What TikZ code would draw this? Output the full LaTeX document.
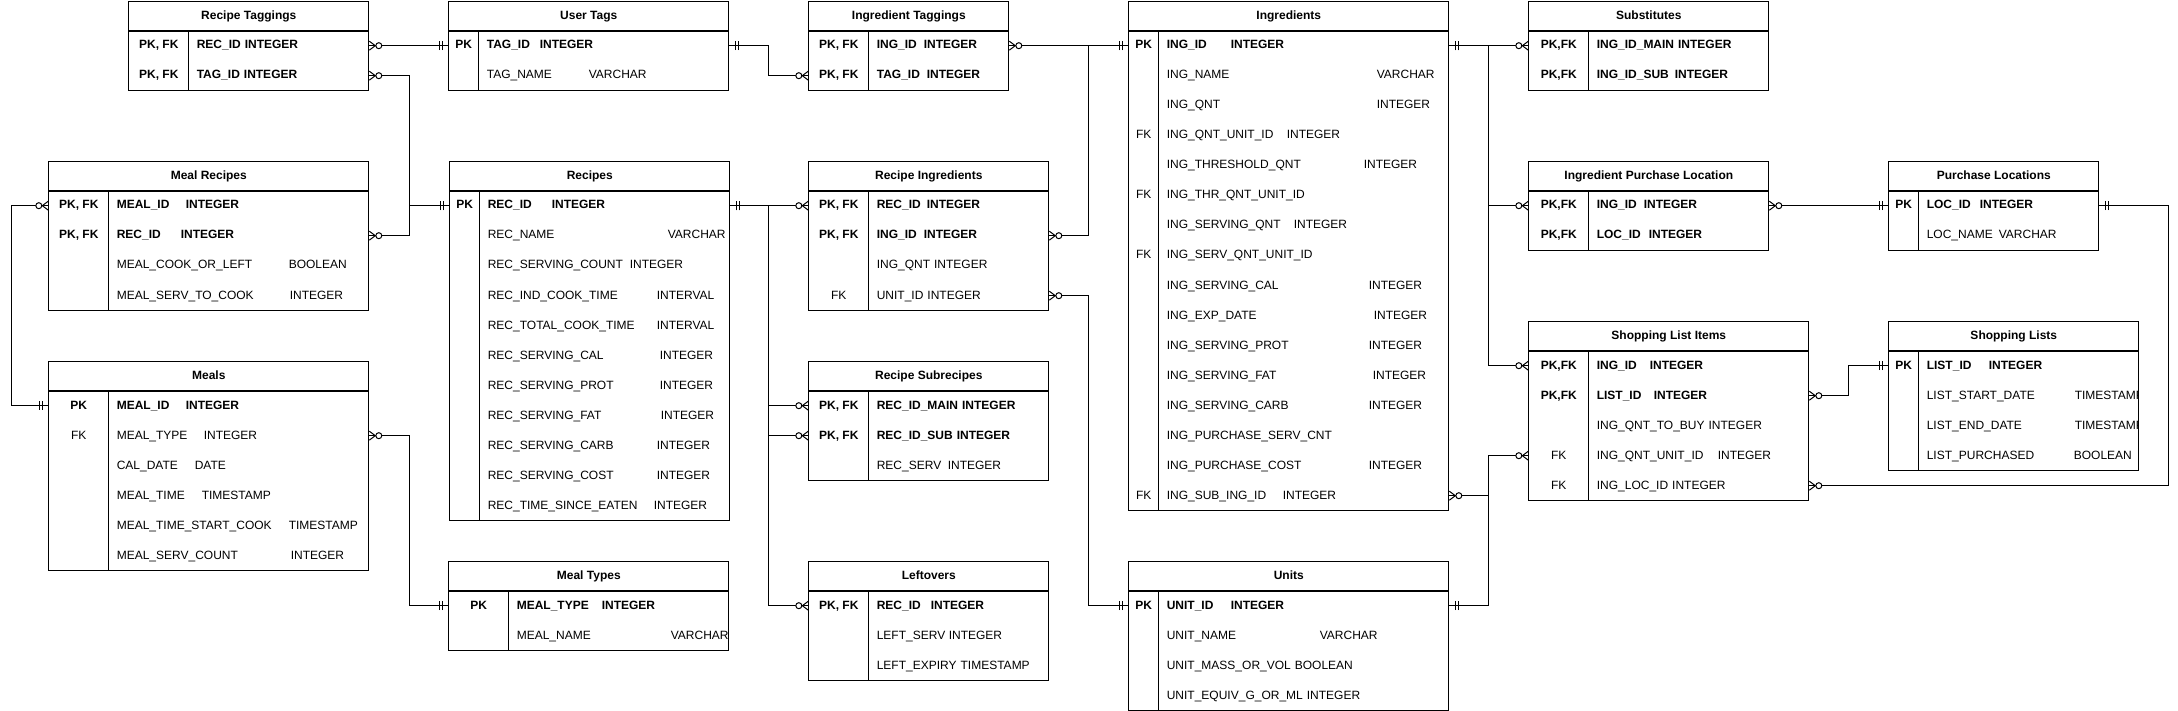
\documentclass[tikz,border=0pt]{standalone}
\usepackage{fontspec}
\setmainfont{Liberation Sans}
\usetikzlibrary{decorations.markings}

% id, x, top, width, key width, title, rows
\newcommand{\ertable}[7]{
  \node[tblhead, minimum width=#4pt] (#1) at (#2,#3) {#6};
  \pgfmathsetmacro{\fw}{#4-#5-16}
  \begin{scope}
    \clip (#2,#3) rectangle (#2+#4,#3+700);
    \foreach [count=\i] \k/\f in {#7} {
      \node[keycell, minimum width=#5pt] (#1-k\i) at (#2,#3+15+30*\i) {\k};
      \node[fieldcell, text width=\fw pt] (#1-\i) at (#2+#5,#3+15+30*\i) {\mbox{\f}};
      \xdef\nrows{\i}
    }
  \end{scope}
  \draw (#2,#3+30) rectangle (#2+#4,#3+30+30*\nrows)
        (#2+#5,#3+30) -- (#2+#5,#3+30+30*\nrows);
}
\newcommand{\fld}[3]{\makebox[#1pt][l]{#2}#3}

\begin{document}
\begin{tikzpicture}[
    x=1pt, y=-1pt, line width=1pt, font=\fontsize{12}{14}\selectfont,
    tblhead/.style={draw, anchor=north west, minimum height=30pt, inner sep=0pt,
                    text height=9pt, text depth=2.4pt, font=\fontsize{12}{14}\selectfont\bfseries},
    keycell/.style={anchor=west, minimum height=30pt, inner sep=0pt,
                    text height=9pt, text depth=2.4pt},
    fieldcell/.style={anchor=west, minimum height=30pt, inner xsep=8pt, inner ysep=0pt,
                      align=left, text height=9pt, text depth=2.4pt},
    link/.style={line width=1pt},
    manystart/.style={postaction={decorate, decoration={markings, mark=at position 0 with {
        \draw (0pt,4.5pt) -- (6pt,0pt) -- (0pt,-4.5pt);
        \draw[fill=white] (9.5pt,0pt) circle (3pt);}}}},
    manyend/.style={postaction={decorate, decoration={markings, mark=at position 1 with {
        \draw (0pt,4.5pt) -- (-6pt,0pt) -- (0pt,-4.5pt);
        \draw[fill=white] (-9.5pt,0pt) circle (3pt);}}}},
    onestart/.style={postaction={decorate, decoration={markings, mark=at position 0 with {
        \draw (6pt,-4.5pt) -- (6pt,4.5pt) (9pt,-4.5pt) -- (9pt,4.5pt);}}}},
    oneend/.style={postaction={decorate, decoration={markings, mark=at position 1 with {
        \draw (-6pt,-4.5pt) -- (-6pt,4.5pt) (-9pt,-4.5pt) -- (-9pt,4.5pt);}}}}
]
  \useasboundingbox (0,0) rectangle (2178,711);

  \ertable{rtag}{128.3}{0.7}{240}{60}{Recipe Taggings}{
    {\bfseries PK, FK}/{\bfseries REC\_ID INTEGER},
    {\bfseries PK, FK}/{\bfseries TAG\_ID INTEGER}}
  \ertable{utag}{448.3}{0.7}{280}{30}{User Tags}{
    {\bfseries PK}/{\bfseries\fld{53}{TAG\_ID}{INTEGER}},
    {}/{\fld{102}{TAG\_NAME}{VARCHAR}}}
  \ertable{mrec}{48.3}{160.7}{320}{60}{Meal Recipes}{
    {\bfseries PK, FK}/{\bfseries\fld{69}{MEAL\_ID}{INTEGER}},
    {\bfseries PK, FK}/{\bfseries\fld{64}{REC\_ID}{INTEGER}},
    {}/{\fld{172}{MEAL\_COOK\_OR\_LEFT}{BOOLEAN}},
    {}/{\fld{173}{MEAL\_SERV\_TO\_COOK}{INTEGER}}}
  \ertable{meals}{48.3}{360.7}{320}{60}{Meals}{
    {\bfseries PK}/{\bfseries\fld{69}{MEAL\_ID}{INTEGER}},
    {FK}/{\fld{87}{MEAL\_TYPE}{INTEGER}},
    {}/{\fld{78}{CAL\_DATE}{DATE}},
    {}/{\fld{85}{MEAL\_TIME}{TIMESTAMP}},
    {}/{\fld{172}{MEAL\_TIME\_START\_COOK}{TIMESTAMP}},
    {}/{\fld{174}{MEAL\_SERV\_COUNT}{INTEGER}}}
  \ertable{rec}{449.3}{160.7}{280}{30}{Recipes}{
    {\bfseries PK}/{\bfseries\fld{64}{REC\_ID}{INTEGER}},
    {}/{\fld{180}{REC\_NAME}{VARCHAR}},
    {}/{\fld{142}{REC\_SERVING\_COUNT}{INTEGER}},
    {}/{\fld{169}{REC\_IND\_COOK\_TIME}{INTERVAL}},
    {}/{\fld{169}{REC\_TOTAL\_COOK\_TIME}{INTERVAL}},
    {}/{\fld{172}{REC\_SERVING\_CAL}{INTEGER}},
    {}/{\fld{172}{REC\_SERVING\_PROT}{INTEGER}},
    {}/{\fld{173}{REC\_SERVING\_FAT}{INTEGER}},
    {}/{\fld{169}{REC\_SERVING\_CARB}{INTEGER}},
    {}/{\fld{169}{REC\_SERVING\_COST}{INTEGER}},
    {}/{\fld{166}{REC\_TIME\_SINCE\_EATEN}{INTEGER}}}
  \ertable{mtype}{448.3}{560.7}{280}{60}{Meal Types}{
    {\bfseries PK}/{\bfseries\fld{85}{MEAL\_TYPE}{INTEGER}},
    {}/{\fld{154}{MEAL\_NAME}{VARCHAR}}}
  \ertable{itag}{808.3}{0.7}{200}{60}{Ingredient Taggings}{
    {\bfseries PK, FK}/{\bfseries\fld{47}{ING\_ID}{INTEGER}},
    {\bfseries PK, FK}/{\bfseries\fld{50}{TAG\_ID}{INTEGER}}}
  \ertable{ring}{808.3}{160.7}{240}{60}{Recipe Ingredients}{
    {\bfseries PK, FK}/{\bfseries\fld{50}{REC\_ID}{INTEGER}},
    {\bfseries PK, FK}/{\bfseries\fld{47}{ING\_ID}{INTEGER}},
    {}/{ING\_QNT INTEGER},
    {FK}/{UNIT\_ID INTEGER}}
  \ertable{rsub}{808.3}{360.7}{240}{60}{Recipe Subrecipes}{
    {\bfseries PK, FK}/{\bfseries REC\_ID\_MAIN INTEGER},
    {\bfseries PK, FK}/{\bfseries REC\_ID\_SUB INTEGER},
    {}/{\fld{71}{REC\_SERV}{INTEGER}}}
  \ertable{left}{808.3}{560.7}{240}{60}{Leftovers}{
    {\bfseries PK, FK}/{\bfseries\fld{54}{REC\_ID}{INTEGER}},
    {}/{\fld{72}{LEFT\_SERV}{INTEGER}},
    {}/{LEFT\_EXPIRY TIMESTAMP}}
  \ertable{ing}{1128.3}{0.7}{320}{30}{Ingredients}{
    {\bfseries PK}/{\bfseries\fld{64}{ING\_ID}{INTEGER}},
    {}/{\fld{210}{ING\_NAME}{VARCHAR}},
    {}/{\fld{210}{ING\_QNT}{INTEGER}},
    {FK}/{\fld{120}{ING\_QNT\_UNIT\_ID}{INTEGER}},
    {}/{\fld{197}{ING\_THRESHOLD\_QNT}{INTEGER}},
    {FK}/{ING\_THR\_QNT\_UNIT\_ID},
    {}/{\fld{127}{ING\_SERVING\_QNT}{INTEGER}},
    {FK}/{ING\_SERV\_QNT\_UNIT\_ID},
    {}/{\fld{202}{ING\_SERVING\_CAL}{INTEGER}},
    {}/{\fld{207}{ING\_EXP\_DATE}{INTEGER}},
    {}/{\fld{202}{ING\_SERVING\_PROT}{INTEGER}},
    {}/{\fld{206}{ING\_SERVING\_FAT}{INTEGER}},
    {}/{\fld{202}{ING\_SERVING\_CARB}{INTEGER}},
    {}/{ING\_PURCHASE\_SERV\_CNT},
    {}/{\fld{202}{ING\_PURCHASE\_COST}{INTEGER}},
    {FK}/{\fld{116}{ING\_SUB\_ING\_ID}{INTEGER}}}
  \ertable{unit}{1128.3}{560.7}{320}{30}{Units}{
    {\bfseries PK}/{\bfseries\fld{64}{UNIT\_ID}{INTEGER}},
    {}/{\fld{153}{UNIT\_NAME}{VARCHAR}},
    {}/{UNIT\_MASS\_OR\_VOL BOOLEAN},
    {}/{UNIT\_EQUIV\_G\_OR\_ML INTEGER}}
  \ertable{subs}{1528.3}{0.7}{240}{60}{Substitutes}{
    {\bfseries PK,FK}/{\bfseries ING\_ID\_MAIN INTEGER},
    {\bfseries PK,FK}/{\bfseries\fld{78}{ING\_ID\_SUB}{INTEGER}}}
  \ertable{ipl}{1528.3}{160.7}{240}{60}{Ingredient Purchase Location}{
    {\bfseries PK,FK}/{\bfseries\fld{47}{ING\_ID}{INTEGER}},
    {\bfseries PK,FK}/{\bfseries\fld{52}{LOC\_ID}{INTEGER}}}
  \ertable{sli}{1528.3}{320.7}{280}{60}{Shopping List Items}{
    {\bfseries PK,FK}/{\bfseries\fld{53}{ING\_ID}{INTEGER}},
    {\bfseries PK,FK}/{\bfseries\fld{57}{LIST\_ID}{INTEGER}},
    {}/{ING\_QNT\_TO\_BUY INTEGER},
    {FK}/{\fld{121}{ING\_QNT\_UNIT\_ID}{INTEGER}},
    {FK}/{ING\_LOC\_ID INTEGER}}
  \ertable{ploc}{1888.3}{160.7}{210}{30}{Purchase Locations}{
    {\bfseries PK}/{\bfseries\fld{53}{LOC\_ID}{INTEGER}},
    {}/{\fld{72}{LOC\_NAME}{VARCHAR}}}
  \ertable{slist}{1888.3}{320.7}{250}{30}{Shopping Lists}{
    {\bfseries PK}/{\bfseries\fld{62}{LIST\_ID}{INTEGER}},
    {}/{\fld{148}{LIST\_START\_DATE}{TIMESTAMP}},
    {}/{\fld{148}{LIST\_END\_DATE}{TIMESTAMP}},
    {}/{\fld{147}{LIST\_PURCHASED}{BOOLEAN}}}

  % trunks of the connectors
  \coordinate (xL) at (11,0);
  \coordinate (xA) at (409,0);
  \coordinate (xB) at (768.3,0);
  \coordinate (xC) at (1088.3,0);
  \coordinate (xD) at (1488.7,0);
  \coordinate (xE) at (1848.3,0);
  \coordinate (xF) at (2168.3,0);

  \draw[link, manystart, oneend] (rtag-1.east) -- (utag-k1.west);
  \draw[link, manystart, oneend] (rtag-2.east) -- (rtag-2.east -| xA) |- (rec-k1.west);
  \draw[link, manystart, oneend] (mrec-2.east) -- (mrec-2.east -| xA) |- (rec-k1.west);
  \draw[link, onestart, manyend] (meals-k1.west) -- (meals-k1.west -| xL) |- (mrec-k1.west);
  \draw[link, manystart, oneend] (meals-2.east) -- (meals-2.east -| xA) |- (mtype-k1.west);
  \draw[link, onestart, manyend] (utag-1.east) -- (utag-1.east -| xB) |- (itag-k2.west);
  \draw[link, onestart, manyend] (rec-1.east) -- (ring-k1.west);
  \draw[link, onestart, manyend] (rec-1.east) -- (rec-1.east -| xB) |- (rsub-k1.west);
  \draw[link, onestart, manyend] (rec-1.east) -- (rec-1.east -| xB) |- (rsub-k2.west);
  \draw[link, onestart, manyend] (rec-1.east) -- (rec-1.east -| xB) |- (left-k1.west);
  \draw[link, manystart, oneend] (itag-1.east) -- (ing-k1.west);
  \draw[link, manystart, oneend] (ring-2.east) -- (ring-2.east -| xC) |- (ing-k1.west);
  \draw[link, manystart, oneend] (ring-4.east) -- (ring-4.east -| xC) |- (unit-k1.west);
  \draw[link, onestart, manyend] (ing-1.east) -- (subs-k1.west);
  \draw[link, onestart, manyend] (ing-1.east) -- (ing-1.east -| xD) |- (ipl-k1.west);
  \draw[link, onestart, manyend] (ing-1.east) -- (ing-1.east -| xD) |- (sli-k1.west);
  \draw[link, manystart, oneend] (ing-16.east) -- (ing-16.east -| xD) |- (unit-1.east);
  \draw[link, onestart, manyend] (unit-1.east) -- (unit-1.east -| xD) |- (sli-k4.west);
  \draw[link, manystart, oneend] (ipl-1.east) -- (ploc-k1.west);
  \draw[link, manystart, oneend] (sli-2.east) -- (sli-2.east -| xE) |- (slist-k1.west);
  \draw[link, onestart, manyend] (ploc-1.east) -- (ploc-1.east -| xF) |- (sli-5.east);
\end{tikzpicture}
\end{document}
